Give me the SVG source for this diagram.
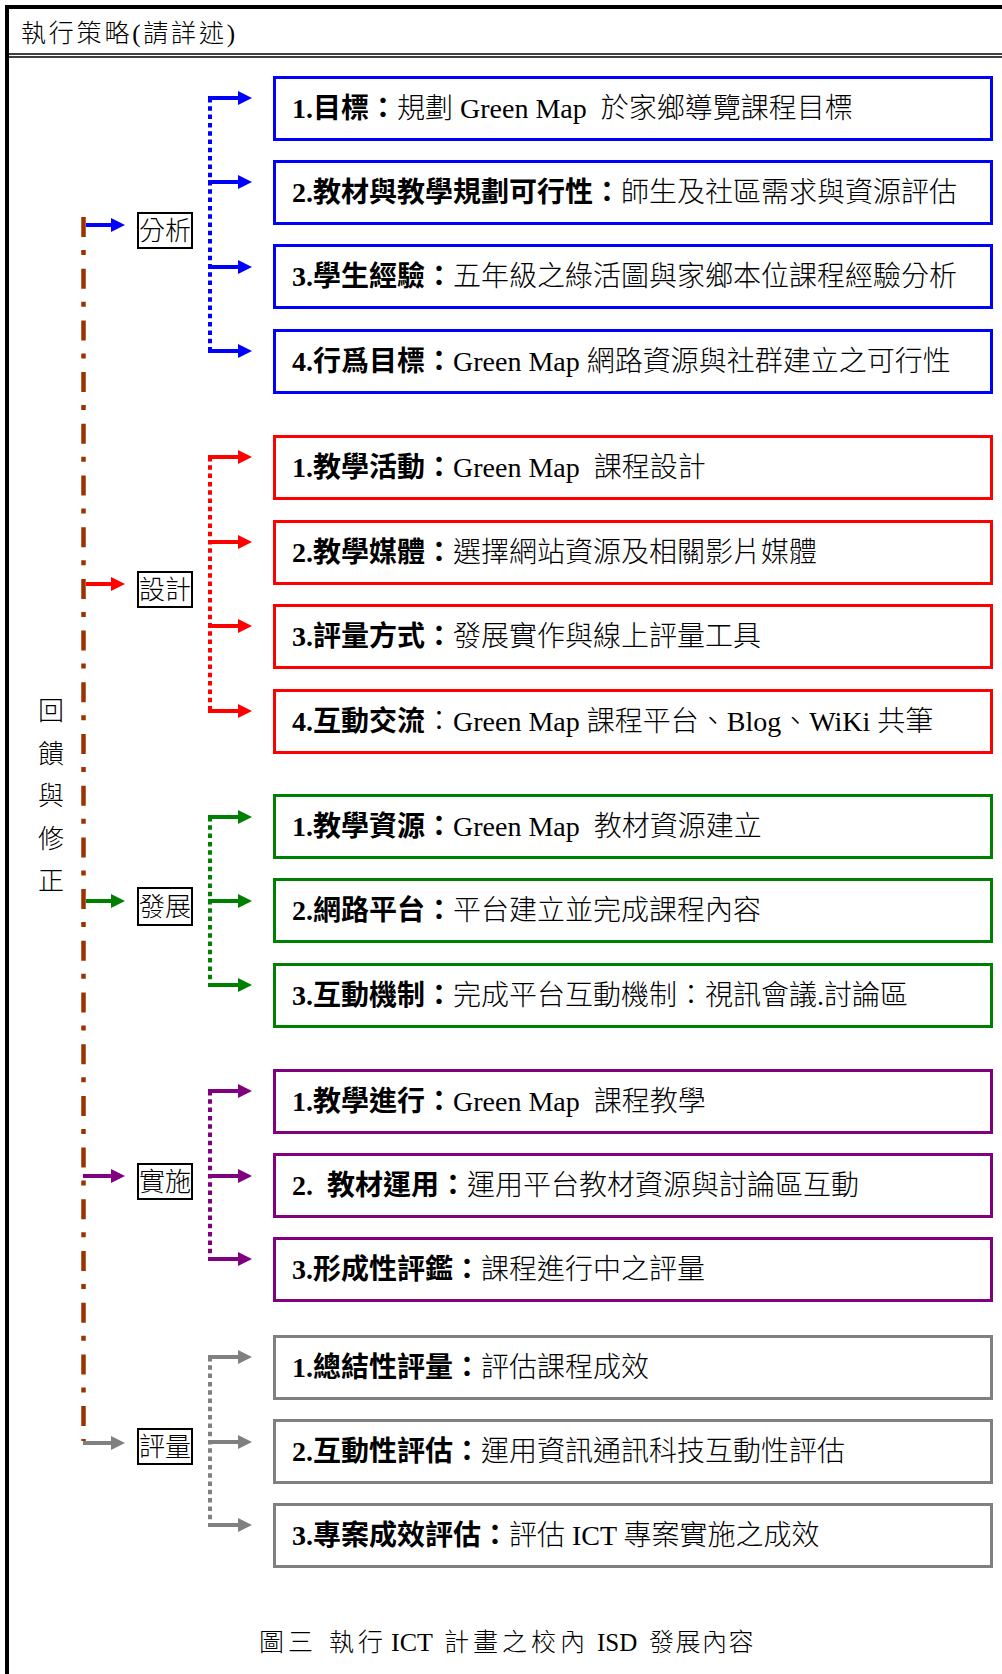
<svg xmlns="http://www.w3.org/2000/svg" width="1002" height="1674" viewBox="0 0 1002 1674">
<style>
.t{font-family:"Liberation Serif","Noto Sans CJK TC",serif;font-size:28px;fill:#000;white-space:pre}
.b{font-weight:bold}
.l{font-weight:300}
.lbl{font-family:"Noto Sans CJK TC",sans-serif;font-size:26px;font-weight:300;text-anchor:middle;fill:#000}
.lb rect{fill:#fff;stroke:#000;stroke-width:2}
.bx{fill:#fff;stroke-width:3}
.cap{font-family:"Liberation Serif","Noto Sans CJK TC",serif;font-weight:300;fill:#000}
.cj{letter-spacing:4px}
.sh{stroke-width:4;fill:none}
.dv{stroke-width:4;stroke-dasharray:4.5 3.8;fill:none}
</style>
<defs>
<marker id="ab" markerUnits="userSpaceOnUse" markerWidth="14" markerHeight="14" refX="0" refY="7" orient="auto"><path d="M0,0 L14,7 L0,14 z" fill="#0000FF"/></marker>
<marker id="ar" markerUnits="userSpaceOnUse" markerWidth="14" markerHeight="14" refX="0" refY="7" orient="auto"><path d="M0,0 L14,7 L0,14 z" fill="#FF0000"/></marker>
<marker id="ag" markerUnits="userSpaceOnUse" markerWidth="14" markerHeight="14" refX="0" refY="7" orient="auto"><path d="M0,0 L14,7 L0,14 z" fill="#008000"/></marker>
<marker id="ap" markerUnits="userSpaceOnUse" markerWidth="14" markerHeight="14" refX="0" refY="7" orient="auto"><path d="M0,0 L14,7 L0,14 z" fill="#800080"/></marker>
<marker id="ay" markerUnits="userSpaceOnUse" markerWidth="14" markerHeight="14" refX="0" refY="7" orient="auto"><path d="M0,0 L14,7 L0,14 z" fill="#808080"/></marker>
</defs>
<rect width="1002" height="1674" fill="#fff"/>
<g id="frame" stroke="#000" fill="none">
<line x1="5" y1="7" x2="1002" y2="7" stroke-width="4"/>
<line x1="7" y1="5" x2="7" y2="1674" stroke-width="4"/>
<line x1="7" y1="54" x2="1002" y2="54" stroke-width="1.4"/>
<line x1="7" y1="57" x2="1002" y2="57" stroke-width="1.4"/>
</g>
<text id="header" class="cap" x="21" y="42" font-size="25" textLength="214" lengthAdjust="spacing">執行策略(請詳述)</text>

<g id="feedback-label" class="lbl">
<text x="51" y="720">回</text>
<text x="51" y="763">饋</text>
<text x="51" y="805">與</text>
<text x="51" y="848">修</text>
<text x="51" y="890">正</text>
</g>

<g id="connectors">
<line x1="83.5" y1="217" x2="83.5" y2="1441" stroke="#993300" stroke-width="4.5" stroke-dasharray="20 13 5 13.7"/>
<line class="sh" x1="86" y1="225" x2="111" y2="225" stroke="#0000FF" marker-end="url(#ab)"/>
<line class="sh" x1="86" y1="584" x2="111" y2="584" stroke="#FF0000" marker-end="url(#ar)"/>
<line class="sh" x1="86" y1="901" x2="111" y2="901" stroke="#008000" marker-end="url(#ag)"/>
<line class="sh" x1="83" y1="1176" x2="111" y2="1176" stroke="#800080" marker-end="url(#ap)"/>
<line class="sh" x1="83" y1="1443" x2="111" y2="1443" stroke="#808080" marker-end="url(#ay)"/>

<line class="dv" x1="210" y1="98" x2="210" y2="352" stroke="#0000FF"/>
<line class="sh" x1="208" y1="98" x2="238" y2="98" stroke="#0000FF" marker-end="url(#ab)"/>
<line class="sh" x1="208" y1="182" x2="238" y2="182" stroke="#0000FF" marker-end="url(#ab)"/>
<line class="sh" x1="208" y1="267" x2="238" y2="267" stroke="#0000FF" marker-end="url(#ab)"/>
<line class="sh" x1="208" y1="351" x2="238" y2="351" stroke="#0000FF" marker-end="url(#ab)"/>

<line class="dv" x1="210" y1="457" x2="210" y2="711" stroke="#FF0000"/>
<line class="sh" x1="208" y1="457" x2="238" y2="457" stroke="#FF0000" marker-end="url(#ar)"/>
<line class="sh" x1="208" y1="542" x2="238" y2="542" stroke="#FF0000" marker-end="url(#ar)"/>
<line class="sh" x1="208" y1="626" x2="238" y2="626" stroke="#FF0000" marker-end="url(#ar)"/>
<line class="sh" x1="208" y1="711" x2="238" y2="711" stroke="#FF0000" marker-end="url(#ar)"/>

<line class="dv" x1="210" y1="817" x2="210" y2="985" stroke="#008000"/>
<line class="sh" x1="208" y1="817" x2="238" y2="817" stroke="#008000" marker-end="url(#ag)"/>
<line class="sh" x1="208" y1="901" x2="238" y2="901" stroke="#008000" marker-end="url(#ag)"/>
<line class="sh" x1="208" y1="985" x2="238" y2="985" stroke="#008000" marker-end="url(#ag)"/>

<line class="dv" x1="210" y1="1091" x2="210" y2="1259" stroke="#800080"/>
<line class="sh" x1="208" y1="1091" x2="238" y2="1091" stroke="#800080" marker-end="url(#ap)"/>
<line class="sh" x1="208" y1="1176" x2="238" y2="1176" stroke="#800080" marker-end="url(#ap)"/>
<line class="sh" x1="208" y1="1259" x2="238" y2="1259" stroke="#800080" marker-end="url(#ap)"/>

<line class="dv" x1="210" y1="1357" x2="210" y2="1525" stroke="#808080"/>
<line class="sh" x1="208" y1="1357" x2="238" y2="1357" stroke="#808080" marker-end="url(#ay)"/>
<line class="sh" x1="208" y1="1442" x2="238" y2="1442" stroke="#808080" marker-end="url(#ay)"/>
<line class="sh" x1="208" y1="1525" x2="238" y2="1525" stroke="#808080" marker-end="url(#ay)"/>
</g>

<g id="phase-analysis" class="lb"><rect x="138" y="213" width="54" height="35"/><text class="lbl" x="165" y="240">分析</text></g>
<g id="phase-design" class="lb"><rect x="138" y="572" width="54" height="35"/><text class="lbl" x="165" y="599">設計</text></g>
<g id="phase-develop" class="lb"><rect x="138" y="888" width="54" height="37"/><text class="lbl" x="165" y="916">發展</text></g>
<g id="phase-implement" class="lb"><rect x="138" y="1164" width="54" height="35"/><text class="lbl" x="165" y="1191">實施</text></g>
<g id="phase-evaluate" class="lb"><rect x="138" y="1429" width="54" height="35"/><text class="lbl" x="165" y="1456">評量</text></g>

<g id="a1"><rect class="bx" x="274.5" y="77.5" width="717" height="62" stroke="#0000FF"/><text class="t" x="292" y="118" xml:space="preserve"><tspan class="b">1.目標：</tspan><tspan class="l">規劃 Green Map  於家鄉導覽課程目標</tspan></text></g>
<g id="a2"><rect class="bx" x="274.5" y="161.5" width="717" height="62" stroke="#0000FF"/><text class="t" x="292" y="202"><tspan class="b">2.教材與教學規劃可行性：</tspan><tspan class="l">師生及社區需求與資源評估</tspan></text></g>
<g id="a3"><rect class="bx" x="274.5" y="245.5" width="717" height="62" stroke="#0000FF"/><text class="t" x="292" y="286"><tspan class="b">3.學生經驗：</tspan><tspan class="l">五年級之綠活圖與家鄉本位課程經驗分析</tspan></text></g>
<g id="a4"><rect class="bx" x="274.5" y="330.5" width="717" height="62" stroke="#0000FF"/><text class="t" x="292" y="371"><tspan class="b">4.行爲目標：</tspan><tspan class="l">Green Map 網路資源與社群建立之可行性</tspan></text></g>

<g id="d1"><rect class="bx" x="274.5" y="436.5" width="717" height="62" stroke="#FF0000"/><text class="t" x="292" y="477" xml:space="preserve"><tspan class="b">1.教學活動：</tspan><tspan class="l">Green Map  課程設計</tspan></text></g>
<g id="d2"><rect class="bx" x="274.5" y="521.5" width="717" height="62" stroke="#FF0000"/><text class="t" x="292" y="562"><tspan class="b">2.教學媒體：</tspan><tspan class="l">選擇網站資源及相關影片媒體</tspan></text></g>
<g id="d3"><rect class="bx" x="274.5" y="605.5" width="717" height="62" stroke="#FF0000"/><text class="t" x="292" y="646"><tspan class="b">3.評量方式：</tspan><tspan class="l">發展實作與線上評量工具</tspan></text></g>
<g id="d4"><rect class="bx" x="274.5" y="690.5" width="717" height="62" stroke="#FF0000"/><text class="t" x="292" y="731"><tspan class="b">4.互動交流</tspan><tspan class="l">：Green Map 課程平台、Blog、WiKi 共筆</tspan></text></g>

<g id="v1"><rect class="bx" x="274.5" y="795.5" width="717" height="62" stroke="#008000"/><text class="t" x="292" y="836" xml:space="preserve"><tspan class="b">1.教學資源：</tspan><tspan class="l">Green Map  教材資源建立</tspan></text></g>
<g id="v2"><rect class="bx" x="274.5" y="879.5" width="717" height="62" stroke="#008000"/><text class="t" x="292" y="920"><tspan class="b">2.網路平台：</tspan><tspan class="l">平台建立並完成課程內容</tspan></text></g>
<g id="v3"><rect class="bx" x="274.5" y="964.5" width="717" height="62" stroke="#008000"/><text class="t" x="292" y="1005"><tspan class="b">3.互動機制：</tspan><tspan class="l">完成平台互動機制：視訊會議.討論區</tspan></text></g>

<g id="i1"><rect class="bx" x="274.5" y="1070.5" width="717" height="62" stroke="#800080"/><text class="t" x="292" y="1111" xml:space="preserve"><tspan class="b">1.教學進行：</tspan><tspan class="l">Green Map  課程教學</tspan></text></g>
<g id="i2"><rect class="bx" x="274.5" y="1154.5" width="717" height="62" stroke="#800080"/><text class="t" x="292" y="1195" xml:space="preserve"><tspan class="b">2.  教材運用：</tspan><tspan class="l">運用平台教材資源與討論區互動</tspan></text></g>
<g id="i3"><rect class="bx" x="274.5" y="1238.5" width="717" height="62" stroke="#800080"/><text class="t" x="292" y="1279"><tspan class="b">3.形成性評鑑：</tspan><tspan class="l">課程進行中之評量</tspan></text></g>

<g id="e1"><rect class="bx" x="274.5" y="1336.5" width="717" height="62" stroke="#808080"/><text class="t" x="292" y="1377"><tspan class="b">1.總結性評量：</tspan><tspan class="l">評估課程成效</tspan></text></g>
<g id="e2"><rect class="bx" x="274.5" y="1420.5" width="717" height="62" stroke="#808080"/><text class="t" x="292" y="1461"><tspan class="b">2.互動性評估：</tspan><tspan class="l">運用資訊通訊科技互動性評估</tspan></text></g>
<g id="e3"><rect class="bx" x="274.5" y="1504.5" width="717" height="62" stroke="#808080"/><text class="t" x="292" y="1545"><tspan class="b">3.專案成效評估：</tspan><tspan class="l">評估 ICT 專案實施之成效</tspan></text></g>

<text id="caption" class="cap" y="1651" font-size="25"><tspan class="cj" x="259">圖三</tspan><tspan class="cj" x="329">執行</tspan><tspan x="391" font-size="26">ICT</tspan><tspan class="cj" x="444">計畫之校內</tspan><tspan x="597">ISD</tspan><tspan x="649" style="letter-spacing:1.5px">發展內容</tspan></text>
</svg>
